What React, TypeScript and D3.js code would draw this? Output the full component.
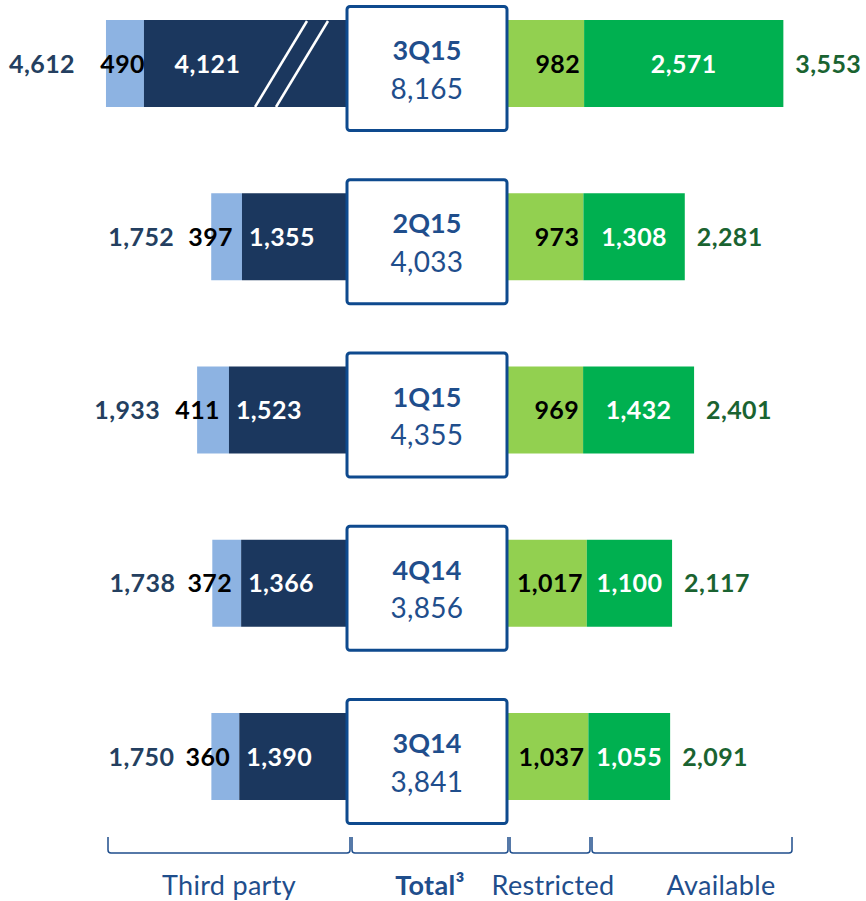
import React from "react";
import * as d3 from "d3";

const periods = ["3Q15", "2Q15", "1Q15", "4Q14", "3Q14"];
const totals = ["8,165", "4,033", "4,355", "3,856", "3,841"];
const thirdPartyLight = [490, 397, 411, 372, 360];
const thirdPartyDark = [4121, 1355, 1523, 1366, 1390];
const thirdPartyTotal = [4612, 1752, 1933, 1738, 1750];
const restricted = [982, 973, 969, 1017, 1037];
const available = [2571, 1308, 1432, 1100, 1055];
const availableTotal = [3553, 2281, 2401, 2117, 2091];
const bottomLabels = ["Third party", "Restricted", "Available"];
const BREAK_CAP = 2620; // dark bars longer than this are drawn cut

const W = 866;
const H = 901;
const FONT = "Lato, 'Open Sans', sans-serif";
const C = {
  light: "#8DB3E2",
  dark: "#1B375E",
  lgreen: "#92D050",
  green: "#00B050",
  leftTxt: "#243F60",
  rightTxt: "#1A6331",
  blue: "#1F4E8C",
  box: "#0E4A8E",
};

const fmt = d3.format(",");

export default function App() {
  const boxL = 347;
  const boxR = 507;
  const k = d3.scaleLinear().domain([0, 5000]).range([0, 387.5]);
  const y = d3
    .scalePoint<string>()
    .domain(periods)
    .range([63.5, 756.5]);
  const bh = 87;
  const lab = { fontSize: 25, fontWeight: 700, letterSpacing: 0.4 } as const;

  return (
    <svg
      width={W}
      height={H}
      style={{ position: "absolute", left: 0, top: 0, display: "block", fontFamily: FONT }}
    >
      {periods.map((p, i) => {
        const cy = y(p) as number;
        const top = cy - bh / 2;
        const darkLen = k(Math.min(thirdPartyDark[i], BREAK_CAP));
        const broken = thirdPartyDark[i] > BREAK_CAP;
        const darkX = boxL - darkLen;
        const lightX = darkX - k(thirdPartyLight[i]);
        const rX = boxR + 1;
        const rW = k(restricted[i]);
        const aX = rX + rW;
        const aW = k(available[i]);
        const darkLabelX = broken ? (darkX + boxL - 92) / 2 + 8 : darkX + 7;
        return (
          <g key={p}>
            <rect x={lightX} y={top} width={darkX - lightX} height={bh} fill={C.light} />
            <rect x={darkX} y={top} width={darkLen} height={bh} fill={C.dark} />
            {broken && (
              <g stroke="#fff" strokeWidth={2.5}>
                <line x1={boxL - 92} y1={top + bh} x2={boxL - 40} y2={top + 1} />
                <line x1={boxL - 71} y1={top + bh} x2={boxL - 19} y2={top + 1} />
              </g>
            )}
            <rect x={rX} y={top} width={rW} height={bh} fill={C.lgreen} />
            <rect x={aX} y={top} width={aW} height={bh} fill={C.green} />

            <text x={lightX - (broken ? 31 : 37)} y={cy} dy="0.36em" textAnchor="end" {...lab} fill={C.leftTxt}>
              {fmt(thirdPartyTotal[i])}
            </text>
            <text x={broken ? darkX + 1 : darkX - 9} y={cy} dy="0.36em" textAnchor="end" {...lab} fill="#000">
              {fmt(thirdPartyLight[i])}
            </text>
            <text x={darkLabelX} y={cy} dy="0.36em" textAnchor={broken ? "middle" : "start"} {...lab} fill="#fff">
              {fmt(thirdPartyDark[i])}
            </text>
            <text x={aX - 4} y={cy} dy="0.36em" textAnchor="end" {...lab} fill="#000">
              {fmt(restricted[i])}
            </text>
            <text x={aX + aW / 2} y={cy} dy="0.36em" textAnchor="middle" {...lab} fill="#fff">
              {fmt(available[i])}
            </text>
            <text x={aX + aW + 12} y={cy} dy="0.36em" textAnchor="start" {...lab} fill={C.rightTxt}>
              {fmt(availableTotal[i])}
            </text>

            <rect x={boxL} y={cy - 57} width={boxR - boxL} height={124} rx={3} fill="#fff" stroke={C.box} strokeWidth={3} />
            <text x={(boxL + boxR) / 2} y={cy - 13} dy="0.36em" textAnchor="middle" fontSize={27} fontWeight={700} fill={C.blue}>
              {p}
            </text>
            <text x={(boxL + boxR) / 2} y={cy + 25} dy="0.36em" textAnchor="middle" fontSize={28} letterSpacing={0.3} fill={C.blue}>
              {totals[i]}
            </text>
          </g>
        );
      })}

      <g fill="none" stroke={C.blue} strokeWidth={1.5}>
        {[
          [108, 350],
          [352, 508],
          [510, 590],
          [592, 792],
        ].map(([a, b], j) => (
          <path
            key={j}
            d={`M${a},837 L${a},850 Q${a},853 ${a + 3},853 L${b - 3},853 Q${b},853 ${b},850 L${b},837`}
          />
        ))}
      </g>
      <g fontSize={27} fill={C.blue}>
        <text x={229} y={885} dy="0.36em" textAnchor="middle" letterSpacing={0.3}>{bottomLabels[0]}</text>
        <text x={430} y={885} dy="0.36em" textAnchor="middle" fontWeight={700} letterSpacing={0.3}>Total³</text>
        <text x={553} y={885} dy="0.36em" textAnchor="middle" letterSpacing={0.3}>{bottomLabels[1]}</text>
        <text x={721} y={885} dy="0.36em" textAnchor="middle" letterSpacing={0.3}>{bottomLabels[2]}</text>
      </g>
    </svg>
  );
}
